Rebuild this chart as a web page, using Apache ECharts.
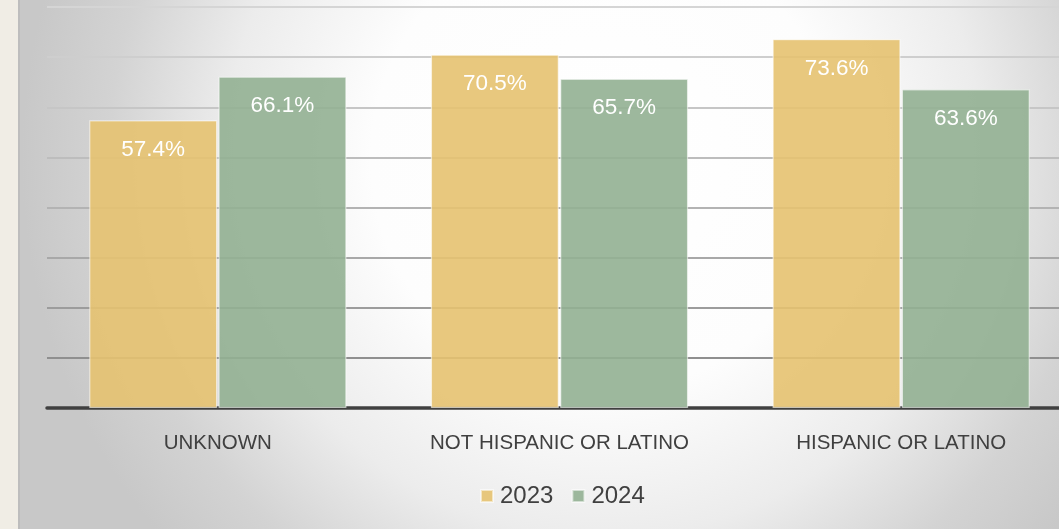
<!DOCTYPE html>
<html><head><meta charset="utf-8">
<script src="https://cdn.jsdelivr.net/npm/echarts@6/dist/echarts.min.js"></script>
<style>html,body{margin:0;padding:0;}#c{width:1059px;height:529px;}</style>
</head><body><div id="c"></div>
<script>
const categories = ['UNKNOWN', 'NOT HISPANIC OR LATINO', 'HISPANIC OR LATINO'];
const seriesNames = ['2023', '2024'];
const values2023 = [57.4, 70.5, 73.6];
const values2024 = [66.1, 65.7, 63.6];

const chart = echarts.init(document.getElementById('c'), null, {renderer: 'canvas'});
const FONT = 'Liberation Sans, Arial, sans-serif';
const labelCfg = {
  show: true, position: 'insideTop', distance: 18, color: '#ffffff',
  fontSize: 22.5, fontFamily: FONT,
  formatter: p => p.value.toFixed(1) + '%'
};
chart.setOption({
  backgroundColor: {
    type: 'radial', x: 0.57, y: 0.3, r: 1.1,
    colorStops: [
      {offset: 0, color: '#ffffff'}, {offset: 0.4, color: '#fdfdfd'},
      {offset: 0.65, color: '#ececec'}, {offset: 0.85, color: '#d3d3d3'},
      {offset: 1, color: '#c8c8c8'}]
  },
  graphic: [
    {type: 'rect', left: 0, top: 0, shape: {width: 18, height: 529}, style: {fill: '#f0ede5'}, z: 100},
    {type: 'rect', left: 18, top: 0, shape: {width: 2, height: 529}, style: {fill: '#bdbdbd'}, z: 100}
  ],
  animation: false,
  grid: {left: 47, width: 1025, top: 7, bottom: 121, containLabel: false, outerBoundsMode: 'none'},
  legend: {
    data: seriesNames, top: 479, left: 475, itemWidth: 12, itemHeight: 12, itemGap: 18,
    icon: 'rect',
    textStyle: {color: '#404040', fontSize: 24, fontFamily: FONT, padding: [0, 0, 0, 2]}
  },
  xAxis: {
    type: 'category', data: categories,
    axisLine: {lineStyle: {color: '#404040', width: 3.5}},
    axisTick: {show: false},
    axisLabel: {color: '#404040', fontSize: 20.5, margin: 25, fontFamily: FONT}
  },
  yAxis: {
    type: 'value', min: 0, max: 80, interval: 10,
    axisLabel: {show: false}, axisLine: {show: false}, axisTick: {show: false},
    splitLine: {lineStyle: {width: 2, color: ['#404040', '#8f8f8f', '#9c9c9c', '#a8a8a8', '#b3b3b3', '#bdbdbd', '#c6c6c6', '#cecece', '#d5d5d5']}}
  },
  series: [
    {name: '2023', type: 'bar', data: values2023, barWidth: 128, barGap: '1%',
     itemStyle: {color: 'rgba(229,194,112,0.9)', borderColor: 'rgba(255,255,255,0.55)', borderWidth: 1.2},
     label: labelCfg},
    {name: '2024', type: 'bar', data: values2024, barWidth: 128,
     itemStyle: {color: 'rgba(146,176,146,0.9)', borderColor: 'rgba(255,255,255,0.55)', borderWidth: 1.2},
     label: labelCfg}
  ]
});
</script></body></html>
